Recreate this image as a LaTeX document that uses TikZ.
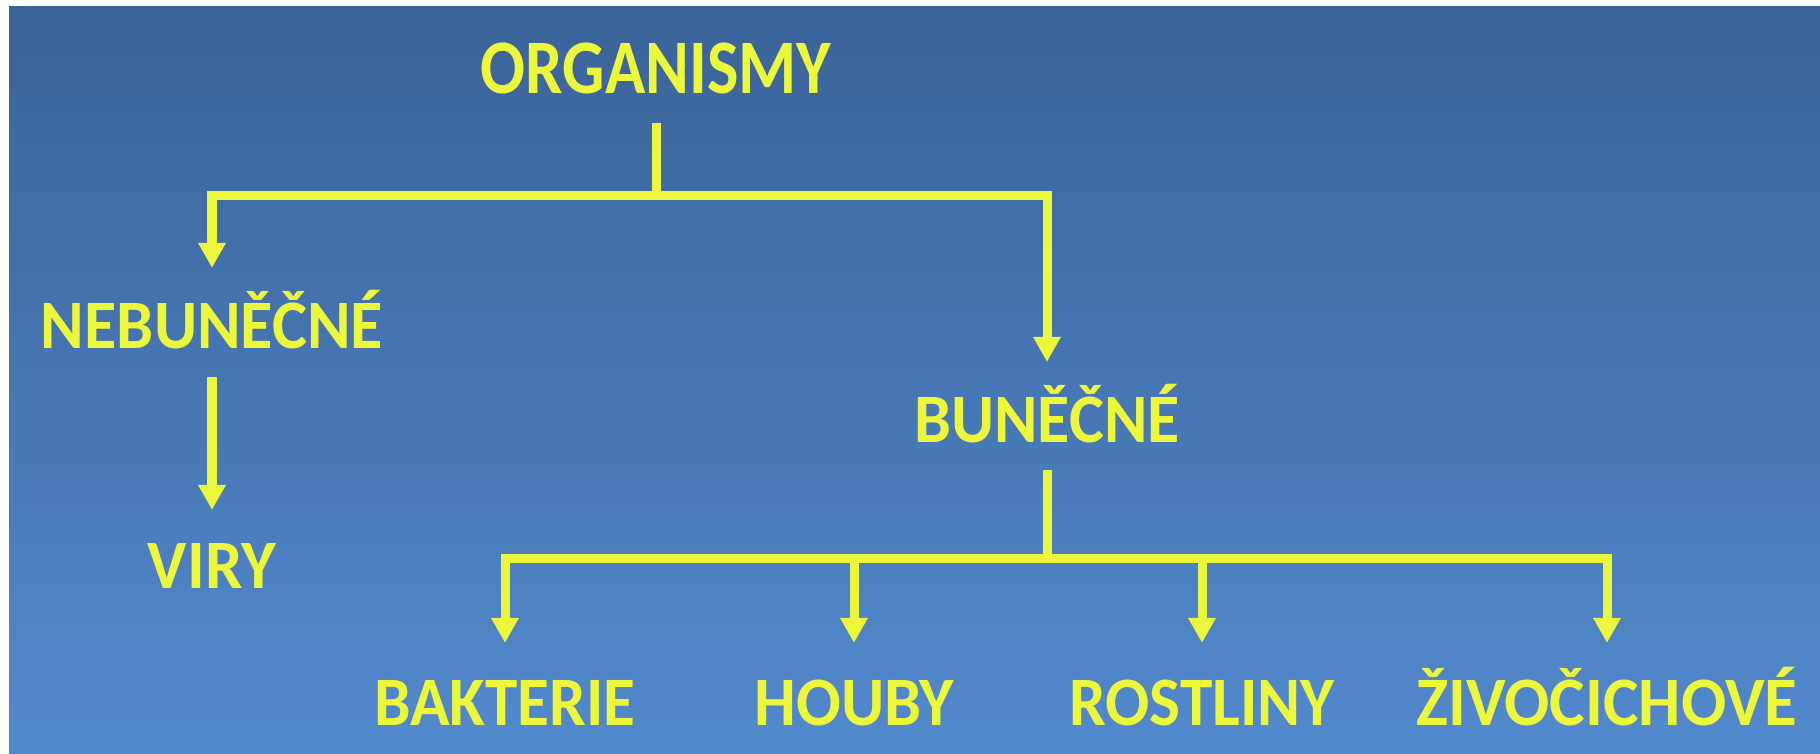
\documentclass[tikz,border=0pt]{standalone}
\usepackage{fontspec}
\usepackage{graphicx}
\setmainfont{Carlito}
\usetikzlibrary{arrows.meta}
\definecolor{bgtop}{RGB}{58,99,152}
\definecolor{bgbot}{RGB}{82,137,205}
\definecolor{ylw}{RGB}{236,246,58}
\newcommand\mylbl[3]{\resizebox{#1}{#2}{\smash{#3}\vphantom{H}}}
\tikzset{
  txt/.style={inner sep=0pt, outer sep=0pt, anchor=base, text=ylw, font=\bfseries},
  conn/.style={draw=ylw, line width=0.09cm, line join=miter},
  arr/.style={conn, -{Triangle[width=0.26cm,length=0.25cm]}},
}
\begin{document}
\begin{tikzpicture}[x=0.01cm,y=-0.01cm]
\useasboundingbox (0,0) rectangle (1820,753);
\fill[white] (0,0) rectangle (1820,753);
\shade[top color=bgtop, bottom color=bgbot] (9,6) rectangle (1820,753);

\node[txt] (org)  at (656,93)  {\mylbl{3.50cm}{0.50cm}{ORGANISMY}};
\node[txt] (nebu) at (212,348) {\mylbl{3.42cm}{0.45cm}{NEBUNĚČNÉ}};
\node[txt] (viry) at (212,588) {\mylbl{1.28cm}{0.45cm}{VIRY}};
\node[txt] (bun)  at (1047,442){\mylbl{2.65cm}{0.45cm}{BUNĚČNÉ}};
\node[txt] (bak)  at (505,725) {\mylbl{2.61cm}{0.45cm}{BAKTERIE}};
\node[txt] (hou)  at (854,725) {\mylbl{1.99cm}{0.45cm}{HOUBY}};
\node[txt] (ros)  at (1202,725){\mylbl{2.65cm}{0.45cm}{ROSTLINY}};
\node[txt] (ziv)  at (1607,725){\mylbl{3.81cm}{0.45cm}{ŽIVOČICHOVÉ}};

\coordinate (j1) at (656,195);
\coordinate (j2) at (1047,558);

\draw[conn, shorten <=0.30cm] (org.south) -- (j1);
\draw[arr, shorten >=0.35cm] (j1) -| (nebu.north);
\draw[arr, shorten >=0.35cm] (j1) -| (bun.north);
\draw[arr, shorten <=0.29cm, shorten >=0.33cm] (nebu.south) -- (viry.north);
\draw[conn, shorten <=0.28cm] (bun.south) -- (j2);
\draw[arr, shorten >=0.37cm] (j2) -| (bak.north);
\draw[arr, shorten >=0.37cm] (j2) -| (hou.north);
\draw[arr, shorten >=0.37cm] (j2) -| (ros.north);
\draw[arr, shorten >=0.37cm] (j2) -| (ziv.north);
\end{tikzpicture}
\end{document}
